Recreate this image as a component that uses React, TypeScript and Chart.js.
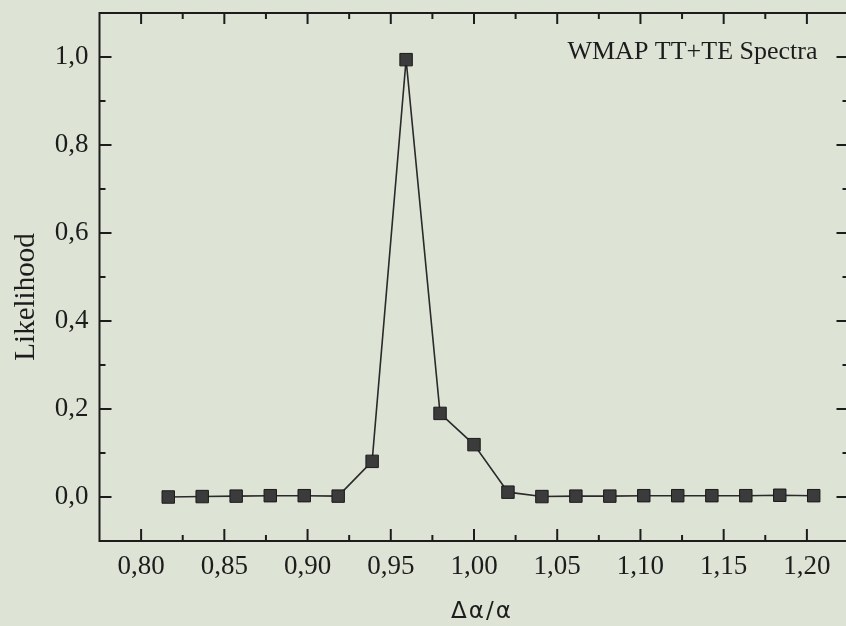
import { useEffect, useRef } from 'react';
import { Chart, registerables } from 'chart.js';

Chart.register(...registerables);

// ---- data ----
const X_VALUES = [
  0.8163, 0.8367, 0.8571, 0.8776, 0.898, 0.9184, 0.9388, 0.9592, 0.9796, 1.0,
  1.0204, 1.0408, 1.0612, 1.0816, 1.102, 1.1224, 1.1429, 1.1633, 1.1837, 1.2041,
];
const LIKELIHOOD = [
  0.0, 0.001, 0.002, 0.003, 0.003, 0.002, 0.081, 0.994, 0.19, 0.119,
  0.011, 0.001, 0.002, 0.002, 0.003, 0.003, 0.003, 0.003, 0.004, 0.003,
];

const X_MAJOR_TICKS = [0.8, 0.85, 0.9, 0.95, 1.0, 1.05, 1.1, 1.15, 1.2];
const X_MINOR_TICKS = [0.825, 0.875, 0.925, 0.975, 1.025, 1.075, 1.125, 1.175];
const Y_MAJOR_TICKS = [0.0, 0.2, 0.4, 0.6, 0.8, 1.0];
const Y_MINOR_TICKS = [0.1, 0.3, 0.5, 0.7, 0.9];

const X_TITLE = 'Δα/α';
const Y_TITLE = 'Likelihood';
const ANNOTATION = 'WMAP TT+TE Spectra';

const BG = '#dde4d6';
const INK = '#1c1c1c';
const SERIF = '"Liberation Serif", "Times New Roman", serif';

const framePlugin = {
  id: 'framePlugin',
  beforeDraw(chart: any) {
    const { ctx, width, height } = chart;
    ctx.save();
    ctx.fillStyle = BG;
    ctx.fillRect(0, 0, width, height);
    ctx.restore();
  },
  beforeDatasetsDraw(chart: any) {
    const { ctx, chartArea } = chart;
    const { left, right, top, bottom } = chartArea;
    const xs = chart.scales.x;
    const ys = chart.scales.y;
    ctx.save();
    ctx.strokeStyle = INK;
    ctx.lineWidth = 2;
    ctx.strokeRect(left, top, right - left, bottom - top);
    const seg = (x1: number, y1: number, x2: number, y2: number) => {
      ctx.beginPath();
      ctx.moveTo(x1, y1);
      ctx.lineTo(x2, y2);
      ctx.stroke();
    };
    const MAJ = 12;
    const MIN = 6;
    X_MAJOR_TICKS.forEach((v) => {
      const p = xs.getPixelForValue(v);
      seg(p, bottom, p, bottom - MAJ);
      seg(p, top, p, top + MAJ - 1);
    });
    X_MINOR_TICKS.forEach((v) => {
      const p = xs.getPixelForValue(v);
      seg(p, bottom, p, bottom - MIN);
      seg(p, top, p, top + MIN);
    });
    Y_MAJOR_TICKS.forEach((v) => {
      const p = ys.getPixelForValue(v);
      seg(left, p, left + MAJ, p);
      seg(right, p, right - MAJ, p);
    });
    Y_MINOR_TICKS.forEach((v) => {
      const p = ys.getPixelForValue(v);
      seg(left, p, left + MIN, p);
      seg(right, p, right - MIN, p);
    });
    ctx.restore();
  },
  afterDraw(chart: any) {
    const { ctx, chartArea } = chart;
    ctx.save();
    ctx.fillStyle = INK;
    // annotation
    ctx.font = `26px ${SERIF}`;
    ctx.textAlign = 'right';
    ctx.textBaseline = 'alphabetic';
    ctx.fillText(ANNOTATION, chartArea.right - 31, chartArea.top + 46);
    // y title
    ctx.save();
    ctx.translate(34, 297);
    ctx.rotate(-Math.PI / 2);
    ctx.font = `29px ${SERIF}`;
    ctx.textAlign = 'center';
    ctx.textBaseline = 'alphabetic';
    ctx.fillText(Y_TITLE, 0, 0);
    ctx.restore();
    // x title
    ctx.font = '23px "DejaVu Sans", sans-serif';
    (ctx as any).letterSpacing = '2px';
    ctx.textAlign = 'center';
    ctx.textBaseline = 'alphabetic';
    ctx.fillText(X_TITLE, 482, 618);
    ctx.restore();
  },
};

const zeroPadding = (s: any) => {
  s.paddingTop = 0;
  s.paddingBottom = 0;
  s.paddingLeft = 0;
  s.paddingRight = 0;
};

export default function App() {
  const ref = useRef<HTMLCanvasElement | null>(null);

  useEffect(() => {
    if (!ref.current) return;
    const tickFont = { family: SERIF, size: 27 };
    const chart = new Chart(ref.current, {
      type: 'line',
      data: {
        datasets: [
          {
            data: X_VALUES.map((x, i) => ({ x, y: LIKELIHOOD[i] })),
            borderColor: '#2a2a2a',
            borderWidth: 1.6,
            pointStyle: 'rect',
            pointRadius: 8.8,
            pointBackgroundColor: '#3b3b3b',
            pointBorderColor: '#1a1a1a',
            pointBorderWidth: 1,
            tension: 0,
            fill: false,
          },
        ],
      },
      options: {
        responsive: false,
        animation: false,
        events: [],
        layout: {
          autoPadding: false,
          padding: { top: 13, right: 3.5, left: 0, bottom: 0 },
        },
        plugins: {
          legend: { display: false },
          tooltip: { enabled: false },
          title: { display: false },
        },
        scales: {
          x: {
            type: 'linear',
            min: 0.775,
            max: 1.225,
            afterBuildTicks: (s: any) => {
              s.ticks = X_MAJOR_TICKS.map((v) => ({ value: v }));
            },
            afterFit: (s: any) => {
              s.height = 85;
              zeroPadding(s);
            },
            grid: { display: false, drawTicks: false },
            border: { display: false },
            ticks: {
              font: tickFont,
              color: INK,
              padding: 10,
              maxRotation: 0,
              autoSkip: false,
              callback: (v: any) => Number(v).toFixed(2).replace('.', ','),
            },
          },
          y: {
            type: 'linear',
            min: -0.1,
            max: 1.1,
            afterBuildTicks: (s: any) => {
              s.ticks = Y_MAJOR_TICKS.map((v) => ({ value: v }));
            },
            afterFit: (s: any) => {
              s.width = 99.5;
              zeroPadding(s);
            },
            grid: { display: false, drawTicks: false },
            border: { display: false },
            ticks: {
              font: tickFont,
              color: INK,
              padding: 11,
              autoSkip: false,
              callback: (v: any) => Number(v).toFixed(1).replace('.', ','),
            },
          },
        },
      },
      plugins: [framePlugin],
    } as any);
    return () => chart.destroy();
  }, []);

  return (
    <div
      style={{
        position: 'absolute',
        left: 0,
        top: 0,
        width: 846,
        height: 626,
        overflow: 'hidden',
        background: BG,
      }}
    >
      <canvas ref={ref} width={852} height={626} style={{ display: 'block' }} />
    </div>
  );
}
